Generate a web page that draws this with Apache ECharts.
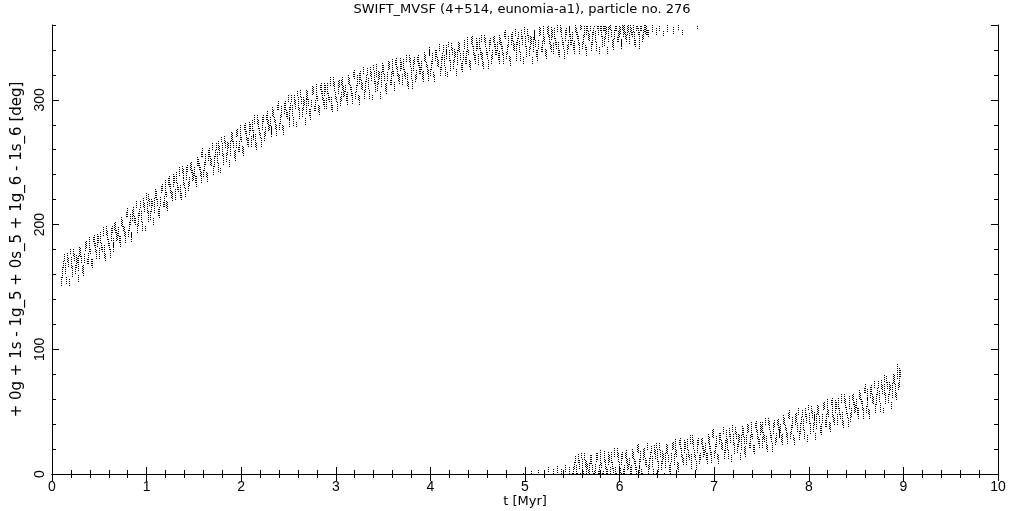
<!DOCTYPE html>
<html>
<head>
<meta charset="utf-8">
<script src="https://cdn.jsdelivr.net/npm/echarts@6/dist/echarts.min.js"></script>
<style>
html,body{margin:0;padding:0;background:#fff;overflow:hidden;}
#chart{width:1021px;height:511px;}
</style>
</head>
<body>
<div id="chart"></div>
<script>
// Title and axis names
const chartTitle = 'SWIFT_MVSF (4+514, eunomia-a1), particle no. 276';
const xName = 't [Myr]';
const yName = '+ 0g + 1s - 1g_5 + 0s_5 + 1g_6 - 1s_6 [deg]';

// Each entry: [t (Myr), angle low (deg), angle high (deg)] for one short vertical streak of dots
const upperBranch = [
[0.10,151,159],[0.12,165,171],[0.14,160,169],[0.16,170,177],[0.18,151,156],[0.20,165,175],[0.22,175,181],[0.24,160,168],[0.26,169,174],[0.28,163,175],
[0.30,174,182],[0.32,161,167],[0.34,169,176],[0.36,181,187],[0.38,168,178],[0.40,176,181],[0.42,165,172],[0.44,183,192],[0.46,174,180],[0.48,182,193],
[0.50,172,181],[0.52,180,186],[0.54,191,198],[0.56,171,177],[0.58,188,196],[0.60,180,185],[0.62,187,197],[0.64,178,185],[0.66,196,201],[0.68,187,196],
[0.70,191,198],[0.72,182,192],[0.74,198,204],[0.76,191,199],[0.78,206,211],[0.80,190,196],[0.82,200,209],[0.84,186,193],[0.86,207,214],[0.88,200,206],
[0.90,193,201],[0.92,207,213],[0.94,202,211],[0.96,214,221],[0.98,195,200],[1.00,209,219],[1.02,219,225],[1.04,204,212],[1.06,215,220],[1.08,209,221],
[1.10,220,228],[1.12,207,213],[1.14,215,222],[1.16,227,233],[1.18,214,224],[1.20,222,227],[1.22,211,218],[1.24,230,239],[1.26,221,227],[1.28,230,241],
[1.30,220,229],[1.32,228,234],[1.34,239,246],[1.36,220,226],[1.38,237,245],[1.40,229,234],[1.42,236,246],[1.44,227,234],[1.46,244,249],[1.48,235,244],
[1.50,239,246],[1.52,230,240],[1.54,247,253],[1.56,239,247],[1.58,254,259],[1.60,238,244],[1.62,248,257],[1.64,234,241],[1.66,254,261],[1.68,247,253],
[1.70,240,248],[1.72,254,260],[1.74,249,258],[1.76,260,267],[1.78,241,246],[1.80,255,265],[1.82,265,271],[1.84,250,258],[1.86,261,266],[1.88,255,267],
[1.90,266,274],[1.92,253,259],[1.94,261,268],[1.96,271,277],[1.98,258,268],[2.00,266,271],[2.02,255,262],[2.04,273,282],[2.06,264,270],[2.08,272,283],
[2.10,262,271],[2.12,270,276],[2.14,281,288],[2.16,260,266],[2.18,277,285],[2.20,269,274],[2.22,276,286],[2.24,267,274],[2.26,284,289],[2.28,275,284],
[2.30,279,286],[2.32,270,280],[2.34,286,292],[2.36,277,285],[2.38,292,297],[2.40,276,282],[2.42,286,295],[2.44,272,279],[2.46,292,299],[2.48,285,291],
[2.50,278,286],[2.52,292,298],[2.54,287,296],[2.56,297,304],[2.58,278,283],[2.60,292,302],[2.62,302,308],[2.64,286,294],[2.66,296,301],[2.68,289,301],
[2.70,300,308],[2.72,287,293],[2.74,294,301],[2.76,305,311],[2.78,291,301],[2.80,299,304],[2.82,288,295],[2.84,305,314],[2.86,296,302],[2.88,303,314],
[2.90,293,302],[2.92,300,306],[2.94,311,318],[2.96,290,296],[2.98,307,315],[3.00,298,303],[3.02,305,315],[3.04,295,302],[3.06,312,317],[3.08,302,311],
[3.10,306,313],[3.12,296,306],[3.14,312,318],[3.16,303,311],[3.18,318,323],[3.20,301,307],[3.22,311,320],[3.24,296,303],[3.26,316,323],[3.28,308,314],
[3.30,301,309],[3.32,314,320],[3.34,309,318],[3.36,319,326],[3.38,300,305],[3.40,313,323],[3.42,323,329],[3.44,307,315],[3.46,317,322],[3.48,310,322],
[3.50,321,329],[3.52,307,313],[3.54,315,322],[3.56,325,331],[3.58,312,322],[3.60,319,324],[3.62,307,314],[3.64,325,334],[3.66,315,321],[3.68,323,334],
[3.70,312,321],[3.72,319,325],[3.74,330,337],[3.76,309,315],[3.78,326,334],[3.80,317,322],[3.82,323,333],[3.84,314,321],[3.86,330,335],[3.88,321,330],
[3.90,324,331],[3.92,314,324],[3.94,330,336],[3.96,321,329],[3.98,336,341],[4.00,319,325],[4.02,329,338],[4.04,314,321],[4.06,334,341],[4.08,326,332],
[4.10,319,327],[4.12,332,338],[4.14,327,336],[4.16,337,344],[4.18,318,323],[4.20,331,341],[4.22,340,346],[4.24,325,333],[4.26,334,339],[4.28,328,340],
[4.30,338,346],[4.32,324,330],[4.34,332,339],[4.36,342,348],[4.38,329,339],[4.40,336,341],[4.42,324,331],[4.44,342,351],[4.46,332,338],[4.48,339,350],
[4.50,328,337],[4.52,336,342],[4.54,346,353],[4.56,325,331],[4.58,342,350],[4.60,333,338],[4.62,339,349],[4.64,329,336],[4.66,346,351],[4.68,336,345],
[4.70,339,346],[4.72,329,339],[4.74,344,350],[4.76,336,344],[4.78,350,355],[4.80,333,339],[4.82,342,351],[4.84,327,334],[4.86,347,354],[4.88,339,345],
[4.90,331,339],[4.92,344,350],[4.94,338,347],[4.96,349,356],[4.98,329,334],[5.00,342,352],[5.02,351,357],[5.04,335,343],[5.06,345,350],[5.08,338,350],
[5.10,348,356],[5.12,334,340],[5.14,341,348],[5.16,352,358],[5.18,338,348],[5.20,345,350],[5.22,333,340],[5.24,350,359],[5.26,341,347],[5.28,348,359],
[5.30,337,346],[5.32,344,350],[5.34,354,360],[5.36,334,340],[5.38,350,358],[5.40,341,346],[5.42,347,357],[5.44,337,344],[5.46,354,359],[5.48,344,353],
[5.50,347,354],[5.52,337,347],[5.54,352,358],[5.56,344,352],[5.58,356,360],[5.60,341,347],[5.62,350,359],[5.64,335,342],[5.66,355,360],[5.68,347,353],
[5.70,339,347],[5.72,352,358],[5.74,346,355],[5.76,357,360],[5.78,337,342],[5.80,350,360],[5.82,355,360],[5.84,343,351],[5.86,353,358],[5.88,346,358],
[5.90,356,360],[5.92,342,348],[5.94,349,356],[5.96,355,360],[5.98,346,356],[6.00,353,358],[6.02,341,348],[6.04,350,360],[6.06,349,355],[6.08,352,360],
[6.10,345,354],[6.12,352,358],[6.14,354,360],[6.16,342,348],[6.18,357,360],[6.20,349,354],[6.22,355,360],[6.24,346,353],[6.26,354,360],[6.28,352,360],
[6.30,350,357],[6.34,354,360],[6.38,352,358],[6.42,355,360],[6.46,351,356],[6.50,354,360],[6.56,353,358],[6.62,356,360],[6.66,352,357],[6.82,357,360]
];

// Interleaved streaks of the upper branch
const upperBranch2 = [
[0.11,157,167],[0.13,171,177],[0.15,152,159],[0.17,166,174],[0.19,176,181],[0.21,158,167],[0.23,171,177],[0.25,165,176],[0.27,154,160],[0.29,175,183],
[0.31,169,175],[0.33,159,168],[0.35,179,186],[0.37,168,173],[0.39,178,190],[0.41,167,173],[0.43,186,191],[0.45,178,186],[0.47,172,179],[0.49,185,191],
[0.51,185,194],[0.53,178,183],[0.55,173,184],[0.57,192,199],[0.59,183,189],[0.61,173,181],[0.63,193,199],[0.65,182,189],[0.67,193,203],[0.69,188,193],
[0.71,185,191],[0.73,199,206],[0.75,195,200],[0.77,185,194],[0.79,206,214],[0.81,195,202],[0.83,190,195],[0.85,203,212],[0.87,201,208],[0.89,213,219],
[0.91,199,209],[0.93,213,219],[0.95,195,202],[0.97,210,218],[0.99,220,225],[1.01,202,211],[1.03,215,221],[1.05,210,221],[1.07,200,206],[1.09,221,229],
[1.11,215,221],[1.13,205,214],[1.15,225,232],[1.17,214,219],[1.19,224,236],[1.21,213,219],[1.23,232,237],[1.25,225,233],[1.27,219,226],[1.29,233,239],
[1.31,233,242],[1.33,226,231],[1.35,221,232],[1.37,241,248],[1.39,232,238],[1.41,222,230],[1.43,242,248],[1.45,231,238],[1.47,241,251],[1.49,236,241],
[1.51,233,239],[1.53,247,254],[1.55,244,249],[1.57,233,242],[1.59,254,262],[1.61,243,250],[1.63,238,243],[1.65,251,260],[1.67,248,255],[1.69,260,266],
[1.71,246,256],[1.73,260,266],[1.75,242,249],[1.77,256,264],[1.79,266,271],[1.81,248,257],[1.83,261,267],[1.85,256,267],[1.87,246,252],[1.89,267,275],
[1.91,261,267],[1.93,251,260],[1.95,270,277],[1.97,258,263],[1.99,268,280],[2.01,257,263],[2.03,276,281],[2.05,268,276],[2.07,262,269],[2.09,275,281],
[2.11,275,284],[2.13,268,273],[2.15,262,273],[2.17,281,288],[2.19,272,278],[2.21,262,270],[2.23,282,288],[2.25,271,278],[2.27,281,291],[2.29,276,281],
[2.31,273,279],[2.33,287,294],[2.35,282,287],[2.37,271,280],[2.39,292,300],[2.41,281,288],[2.43,276,281],[2.45,289,298],[2.47,286,293],[2.49,298,304],
[2.51,284,294],[2.53,298,304],[2.55,279,286],[2.57,293,301],[2.59,303,308],[2.61,285,294],[2.63,297,303],[2.65,292,303],[2.67,280,286],[2.69,301,309],
[2.71,295,301],[2.73,284,293],[2.75,304,311],[2.77,291,296],[2.79,301,313],[2.81,290,296],[2.83,308,313],[2.85,300,308],[2.87,293,300],[2.89,306,312],
[2.91,305,314],[2.93,298,303],[2.95,292,303],[2.97,311,318],[2.99,301,307],[3.01,291,299],[3.03,310,316],[3.05,299,306],[3.07,308,318],[3.09,303,308],
[3.11,299,305],[3.13,313,320],[3.15,308,313],[3.17,297,306],[3.19,317,325],[3.21,306,313],[3.23,300,305],[3.25,313,322],[3.27,309,316],[3.29,321,327],
[3.31,306,316],[3.33,320,326],[3.35,301,308],[3.37,315,323],[3.39,324,329],[3.41,306,315],[3.43,318,324],[3.45,313,324],[3.47,301,307],[3.49,322,330],
[3.51,315,321],[3.53,305,314],[3.55,324,331],[3.57,312,317],[3.59,321,333],[3.61,309,315],[3.63,328,333],[3.65,319,327],[3.67,313,320],[3.69,325,331],
[3.71,324,333],[3.73,317,322],[3.75,311,322],[3.77,330,337],[3.79,320,326],[3.81,309,317],[3.83,329,335],[3.85,317,324],[3.87,327,337],[3.89,321,326],
[3.91,317,323],[3.93,331,338],[3.95,326,331],[3.97,315,324],[3.99,335,343],[4.01,324,331],[4.03,318,323],[4.05,331,340],[4.07,327,334],[4.09,339,345],
[4.11,324,334],[4.13,338,344],[4.15,319,326],[4.17,333,341],[4.19,342,347],[4.21,323,332],[4.23,336,342],[4.25,330,341],[4.27,319,325],[4.29,339,347],
[4.31,332,338],[4.33,322,331],[4.35,341,348],[4.37,329,334],[4.39,338,350],[4.41,326,332],[4.43,345,350],[4.45,336,344],[4.47,329,336],[4.49,341,347],
[4.51,341,350],[4.53,333,338],[4.55,327,338],[4.57,346,353],[4.59,336,342],[4.61,325,333],[4.63,344,350],[4.65,333,340],[4.67,342,352],[4.69,336,341],
[4.71,332,338],[4.73,345,352],[4.75,341,346],[4.77,329,338],[4.79,349,357],[4.81,337,344],[4.83,331,336],[4.85,344,353],[4.87,340,347],[4.89,351,357],
[4.91,336,346],[4.93,349,355],[4.95,331,338],[4.97,344,352],[4.99,353,358],[5.01,334,343],[5.03,346,352],[5.05,341,352],[5.07,329,335],[5.09,349,357],
[5.11,342,348],[5.13,331,340],[5.15,351,358],[5.17,338,343],[5.19,347,359],[5.21,335,341],[5.23,353,358],[5.25,345,353],[5.27,338,345],[5.29,350,356],
[5.31,349,358],[5.33,341,346],[5.35,336,347],[5.37,354,360],[5.39,344,350],[5.41,333,341],[5.43,352,358],[5.45,341,348],[5.47,350,360],[5.49,344,349],
[5.51,340,346],[5.53,354,360],[5.55,349,354],[5.57,337,346],[5.59,357,360],[5.61,345,352],[5.63,340,345],[5.65,352,360],[5.67,348,355],[5.69,355,360],
[5.71,344,354],[5.73,358,360],[5.75,339,346],[5.77,352,360],[5.79,355,360],[5.81,342,351],[5.83,355,360],[5.85,349,360],[5.87,337,343],[5.89,357,360],
[5.91,350,356],[5.93,340,349],[5.95,355,360],[5.97,346,351],[5.99,350,360],[6.01,343,349],[6.03,356,360],[6.05,353,360],[6.07,346,353],[6.09,354,360],
[6.11,354,360],[6.13,350,355],[6.15,344,355],[6.17,355,360],[6.19,352,358],[6.21,341,349],[6.23,355,360],[6.25,349,356],[6.27,353,360],[6.29,352,357]
];

const lowerBranch = [
[4.98,0,2],[5.06,0,3],[5.14,1,4],[5.20,0,3],[5.24,2,6],[5.30,0,4],[5.34,1,7],[5.38,0,5],[5.42,2,8],[5.46,0,6],
[5.50,0,2],[5.52,4,10],[5.54,0,7],[5.56,9,16],[5.58,0,2],[5.60,2,12],[5.62,11,17],[5.64,0,3],[5.66,4,9],[5.68,0,9],
[5.70,8,16],[5.72,0,2],[5.74,1,8],[5.76,11,17],[5.78,0,8],[5.80,5,10],[5.82,0,3],[5.84,10,19],[5.86,0,6],[5.88,7,18],
[5.90,0,6],[5.92,4,10],[5.94,14,21],[5.96,0,2],[5.98,10,18],[6.00,1,6],[6.02,7,17],[6.04,0,4],[6.06,13,18],[6.08,3,12],
[6.10,7,14],[6.12,0,7],[6.14,12,18],[6.16,3,11],[6.18,18,23],[6.20,1,7],[6.22,10,19],[6.24,0,2],[6.26,14,21],[6.28,6,12],
[6.30,0,7],[6.32,12,18],[6.34,6,15],[6.36,16,23],[6.38,0,2],[6.40,10,20],[6.42,19,25],[6.44,3,11],[6.46,12,17],[6.48,5,17],
[6.50,16,24],[6.52,2,8],[6.54,10,17],[6.56,20,26],[6.58,7,17],[6.60,14,19],[6.62,2,9],[6.64,20,29],[6.66,10,16],[6.68,17,28],
[6.70,7,16],[6.72,14,20],[6.74,24,31],[6.76,4,10],[6.78,20,28],[6.80,11,16],[6.82,17,27],[6.84,8,15],[6.86,24,29],[6.88,14,23],
[6.90,18,25],[6.92,8,18],[6.94,24,30],[6.96,15,23],[6.98,30,35],[7.00,13,19],[7.02,22,31],[7.04,8,15],[7.06,27,34],[7.08,19,25],
[7.10,12,20],[7.12,25,31],[7.14,19,28],[7.16,30,37],[7.18,10,15],[7.20,23,33],[7.22,32,38],[7.24,17,25],[7.26,26,31],[7.28,19,31],
[7.30,30,38],[7.32,16,22],[7.34,24,31],[7.36,34,40],[7.38,21,31],[7.40,28,33],[7.42,16,23],[7.44,34,43],[7.46,24,30],[7.48,31,42],
[7.50,21,30],[7.52,28,34],[7.54,39,46],[7.56,18,24],[7.58,35,43],[7.60,26,31],[7.62,32,42],[7.64,23,30],[7.66,39,44],[7.68,29,38],
[7.70,33,40],[7.72,23,33],[7.74,39,45],[7.76,30,38],[7.78,45,50],[7.80,28,34],[7.82,37,46],[7.84,23,30],[7.86,42,49],[7.88,34,40],
[7.90,27,35],[7.92,40,46],[7.94,35,44],[7.96,46,53],[7.98,26,31],[8.00,40,50],[8.02,49,55],[8.04,34,42],[8.06,43,48],[8.08,36,48],
[8.10,47,55],[8.12,33,39],[8.14,41,48],[8.16,52,58],[8.18,38,48],[8.20,46,51],[8.22,34,41],[8.24,52,61],[8.26,42,48],[8.28,49,60],
[8.30,39,48],[8.32,47,53],[8.34,57,64],[8.36,37,43],[8.38,53,61],[8.40,45,50],[8.42,52,62],[8.44,42,49],[8.46,59,64],[8.48,49,58],
[8.50,53,60],[8.52,44,54],[8.54,59,65],[8.56,51,59],[8.58,65,70],[8.60,49,55],[8.62,59,68],[8.64,44,51],[8.66,64,71],[8.68,56,62],
[8.70,49,57],[8.72,63,69],[8.74,58,67],[8.76,68,75],[8.78,49,54],[8.80,63,73],[8.82,73,79],[8.84,57,65],[8.86,67,72],[8.88,61,73],
[8.90,72,80],[8.91,62,72],[8.92,59,65],[8.93,76,89],[8.94,67,74],[8.95,70,86],[8.96,78,84]
];

// Interleaved streaks of the lower branch
const lowerBranch2 = [
[5.51,0,6],[5.53,9,15],[5.55,0,2],[5.57,4,12],[5.59,13,18],[5.61,0,3],[5.63,6,12],[5.65,0,11],[5.67,1,4],[5.69,8,16],
[5.71,2,8],[5.73,0,3],[5.75,10,17],[5.77,0,3],[5.79,7,19],[5.81,0,2],[5.83,13,18],[5.85,4,12],[5.87,0,4],[5.89,10,16],
[5.91,9,18],[5.93,1,6],[5.95,0,6],[5.97,14,21],[5.99,4,10],[6.01,0,2],[6.03,12,18],[6.05,0,7],[6.07,9,19],[6.09,4,9],
[6.11,0,6],[6.13,13,20],[6.15,8,13],[6.17,0,6],[6.19,17,25],[6.21,5,12],[6.23,0,4],[6.25,11,20],[6.27,7,14],[6.29,19,25],
[6.31,4,14],[6.33,17,23],[6.35,0,5],[6.37,12,20],[6.39,21,26],[6.41,2,11],[6.43,14,20],[6.45,8,19],[6.47,0,2],[6.49,17,25],
[6.51,10,16],[6.53,0,9],[6.55,19,26],[6.57,7,12],[6.59,16,28],[6.61,4,10],[6.63,23,28],[6.65,14,22],[6.67,7,14],[6.69,20,26],
[6.71,19,28],[6.73,11,16],[6.75,6,17],[6.77,24,31],[6.79,14,20],[6.81,3,11],[6.83,23,29],[6.85,11,18],[6.87,20,30],[6.89,15,20],
[6.91,11,17],[6.93,25,32],[6.95,20,25],[6.97,9,18],[6.99,29,37],[7.01,17,24],[7.03,12,17],[7.05,24,33],[7.07,20,27],[7.09,32,38],
[7.11,17,27],[7.13,30,36],[7.15,12,19],[7.17,25,33],[7.19,34,39],[7.21,16,25],[7.23,28,34],[7.25,22,33],[7.27,11,17],[7.29,31,39],
[7.31,24,30],[7.33,14,23],[7.35,33,40],[7.37,21,26],[7.39,30,42],[7.41,18,24],[7.43,37,42],[7.45,28,36],[7.47,21,28],[7.49,34,40],
[7.51,33,42],[7.53,26,31],[7.55,20,31],[7.57,39,46],[7.59,29,35],[7.61,18,26],[7.63,38,44],[7.65,26,33],[7.67,35,45],[7.69,30,35],
[7.71,26,32],[7.73,40,47],[7.75,35,40],[7.77,24,33],[7.79,44,52],[7.81,32,39],[7.83,27,32],[7.85,39,48],[7.87,35,42],[7.89,47,53],
[7.91,32,42],[7.93,46,52],[7.95,28,35],[7.97,41,49],[7.99,51,56],[8.01,32,41],[8.03,45,51],[8.05,39,50],[8.07,27,33],[8.09,48,56],
[8.11,41,47],[8.13,31,40],[8.15,51,58],[8.17,38,43],[8.19,48,60],[8.21,36,42],[8.23,55,60],[8.25,46,54],[8.27,39,46],[8.29,52,58],
[8.31,52,61],[8.33,44,49],[8.35,39,50],[8.37,57,64],[8.39,48,54],[8.41,38,46],[8.43,57,63],[8.45,46,53],[8.47,55,65],[8.49,50,55],
[8.51,47,53],[8.53,60,67],[8.55,56,61],[8.57,44,53],[8.59,65,73],[8.61,54,61],[8.63,48,53],[8.65,61,70],[8.67,57,64],[8.69,69,75],
[8.71,55,65],[8.73,69,75],[8.75,50,57],[8.77,64,72],[8.79,74,79],[8.81,56,65],[8.83,68,74],[8.85,63,74],[8.87,52,58],[8.89,73,81]
];

const xMin = 0, xMax = 10, xStep = 1;
const yMin = 0, yMax = 360, yMajor = 100, yMinor = 20;

const FONT = 'Liberation Sans';
const FONT2 = 'DejaVu Sans';
const chart = echarts.init(document.getElementById('chart'), null, {renderer: 'canvas'});

function streak(params, api) {
  const t = api.value(0);
  const p1 = api.coord([t, api.value(1)]);
  const p2 = api.coord([t, api.value(2)]);
  const x = Math.round(p1[0]) + 0.5;
  return {
    type: 'line',
    shape: {x1: x, y1: Math.round(p1[1]), x2: x, y2: Math.round(p2[1])},
    style: {stroke: '#000', lineWidth: 1, lineDash: [1, 1]}
  };
}

const axisLineStyle = {lineStyle: {color: '#000', width: 1}};
const labelStyle = {color: '#000', fontFamily: FONT, fontSize: 14};

const option = {
  animation: false,
  backgroundColor: '#fff',
  title: {
    text: chartTitle,
    left: 517, top: -2, textAlign: 'center',
    textStyle: {color: '#000', fontFamily: FONT2, fontSize: 13, fontWeight: 'normal'}
  },
  grid: {left: 52, right: 23, top: 25, bottom: 37, containLabel: false, outerBoundsMode: 'none'},
  xAxis: [
    {
      type: 'value', min: xMin, max: xMax, interval: xStep, position: 'bottom',
      name: xName, nameLocation: 'middle', nameGap: 21, nameMoveOverlap: false,
      nameTextStyle: {color: '#000', fontFamily: FONT2, fontSize: 13},
      axisLine: axisLineStyle,
      axisTick: {inside: true, length: 7, lineStyle: {color: '#000'}},
      minorTick: {show: true, splitNumber: 5, length: 4, lineStyle: {color: '#000'}},
      axisLabel: Object.assign({margin: 6}, labelStyle),
      splitLine: {show: false}
    },
    {
      type: 'value', min: xMin, max: xMax, interval: xStep, position: 'top',
      axisLine: axisLineStyle,
      axisTick: {inside: true, length: 7, lineStyle: {color: '#000'}},
      minorTick: {show: true, splitNumber: 5, length: 4, lineStyle: {color: '#000'}},
      axisLabel: {show: false},
      splitLine: {show: false}
    }
  ],
  yAxis: [
    {
      type: 'value', min: yMin, max: yMax, interval: yMajor, position: 'left',
      name: yName, nameLocation: 'middle', nameGap: 26, nameRotate: 90,
      nameTextStyle: {color: '#000', fontFamily: FONT2, fontSize: 15},
      axisLine: axisLineStyle,
      axisTick: {inside: true, length: 7, lineStyle: {color: '#000'}},
      axisLabel: Object.assign({margin: 5, rotate: 90, showMaxLabel: false}, labelStyle),
      splitLine: {show: false}
    },
    {
      type: 'value', min: yMin, max: yMax, interval: yMinor, position: 'left',
      axisLine: {show: false},
      axisTick: {inside: true, length: 4, lineStyle: {color: '#000'}},
      axisLabel: {show: false},
      splitLine: {show: false}
    },
    {
      type: 'value', min: yMin, max: yMax, interval: yMajor, position: 'right',
      axisLine: axisLineStyle,
      axisTick: {inside: true, length: 7, lineStyle: {color: '#000'}},
      axisLabel: {show: false},
      splitLine: {show: false}
    },
    {
      type: 'value', min: yMin, max: yMax, interval: yMinor, position: 'right',
      axisLine: {show: false},
      axisTick: {inside: true, length: 4, lineStyle: {color: '#000'}},
      axisLabel: {show: false},
      splitLine: {show: false}
    }
  ],
  series: [
    {type: 'custom', name: 'upper', xAxisIndex: 0, yAxisIndex: 0, clip: true,
     renderItem: streak, encode: {x: 0, y: [1, 2]}, data: upperBranch.concat(upperBranch2)},
    {type: 'custom', name: 'lower', xAxisIndex: 0, yAxisIndex: 0, clip: true,
     renderItem: streak, encode: {x: 0, y: [1, 2]}, data: lowerBranch.concat(lowerBranch2)}
  ]
};
chart.setOption(option);
</script>
</body>
</html>
